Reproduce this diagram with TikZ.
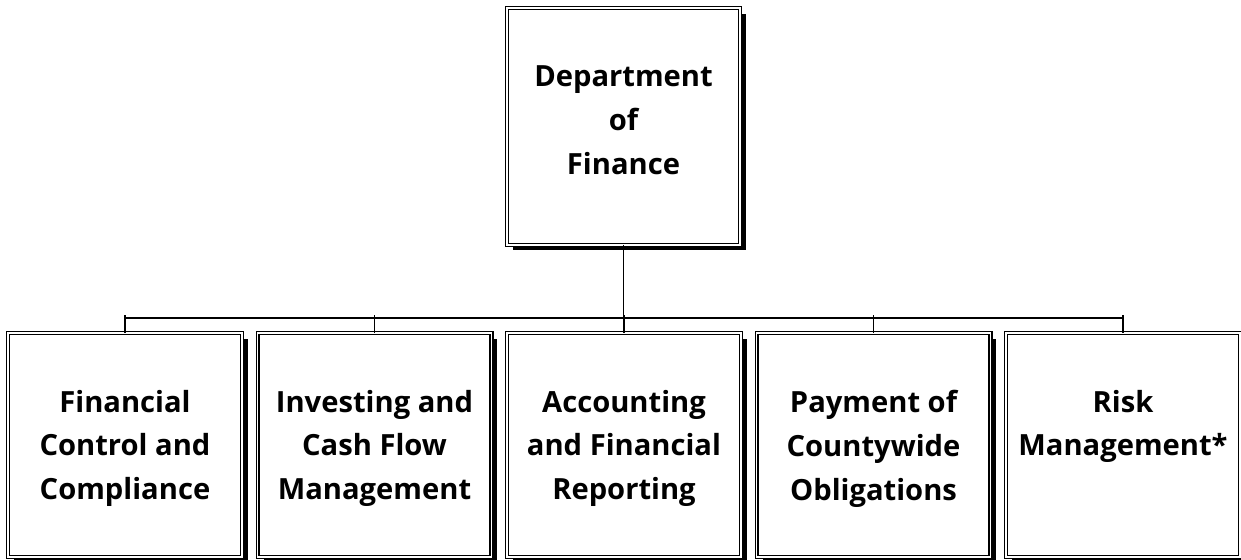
\documentclass[tikz,border=0pt]{standalone}
\usepackage{fontspec}
\setmainfont{Open Sans}
\usetikzlibrary{shadows}

\tikzset{
  unitbox/.style={draw, fill=white, line width=0.6pt, double, double distance=1.1pt,
    inner sep=0pt, outer sep=0pt, minimum width=4.68cm, minimum height=4.48cm,
    drop shadow={shadow xshift=0.12cm, shadow yshift=-0.11cm, fill=black, opacity=1}},
  unitlabel/.style={align=center, inner sep=0pt, anchor=north,
    font=\bfseries\fontsize{16.6}{25}\selectfont},
  link/.style={line width=0.7pt}
}

\begin{document}
\begin{tikzpicture}[x=0.02cm, y=-0.02cm]
  \useasboundingbox (0,0) rectangle (1241,560);

  % head of the department
  \node[unitbox, minimum width=4.66cm, minimum height=4.74cm] (dept) at (623.5,126.5) {};
  \node[unitlabel] (dept-t) at (623.5,65.5) {Department\\of\\Finance};

  % divisions
  \foreach \name/\txt [count=\i from 0] in {
      fcc/{Financial\\Control and\\Compliance},
      icf/{Investing and\\Cash Flow\\Management},
      afr/{Accounting\\and Financial\\Reporting},
      pco/{Payment of\\Countywide\\Obligations},
      rsk/{Risk\\Management*}} {
    \node[unitbox] (\name) at (125+249.5*\i,445) {};
    \node[unitlabel] (\name-t) at (125+249.5*\i,389.5) {\txt};
  }

  % connectors
  \coordinate (bus) at (624,318);
  \draw[link] (dept.south) -- (dept.south |- bus);
  \draw[link] (fcc.north |- bus) -- (rsk.north |- bus);
  \foreach \name in {fcc,icf,afr,pco,rsk}
    \draw[link] (\name.north) -- ([yshift=0.05cm]\name.north |- bus);
\end{tikzpicture}
\end{document}
